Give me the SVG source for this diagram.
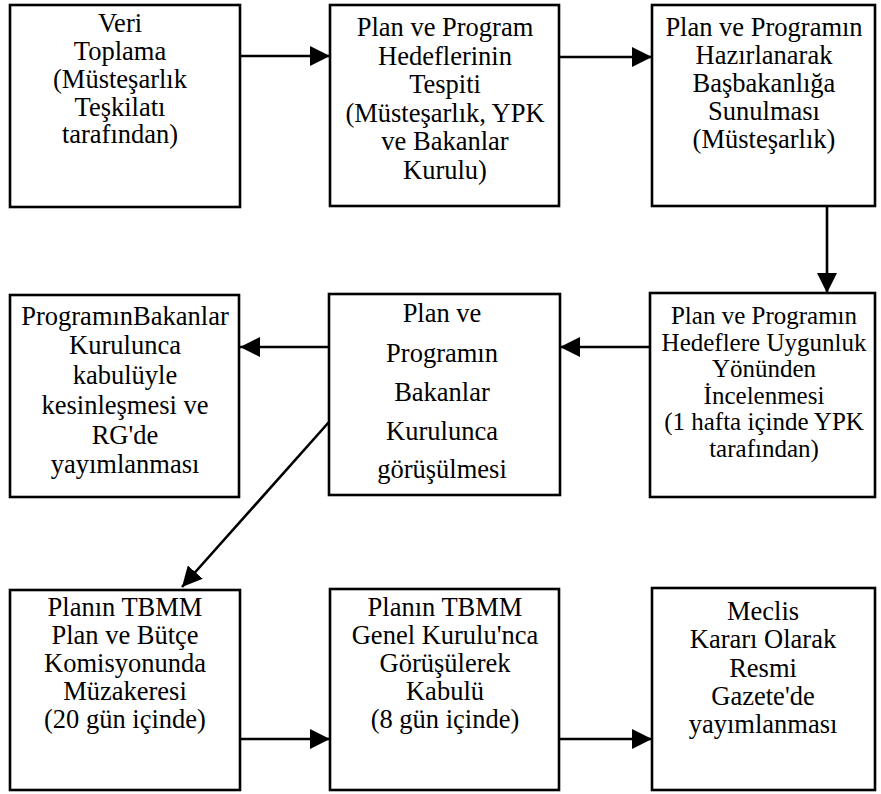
<svg xmlns="http://www.w3.org/2000/svg" width="881" height="794" viewBox="0 0 881 794">
<style>
.box{fill:#fff;stroke:#000;stroke-width:2.6}
.t{font-size:26.5px;fill:#000;text-anchor:middle}
.s{font-size:25px}
.c{stroke:#000;stroke-width:2.6;fill:none;marker-end:url(#ah)}
</style>
<defs>
<marker id="ah" markerUnits="userSpaceOnUse" markerWidth="20" markerHeight="20" refX="18" refY="9" orient="auto" viewBox="0 0 18 18">
<path d="M0,0 L18,9 L0,18 z" fill="#000"/>
</marker>
</defs>
<rect width="881" height="794" fill="#fff"/>
<g id="connectors">
<line class="c" x1="240" y1="56" x2="330" y2="56"/>
<line class="c" x1="559" y1="57" x2="652" y2="57"/>
<line class="c" x1="827" y1="206" x2="827" y2="293"/>
<line class="c" x1="650" y1="347" x2="560" y2="347"/>
<line class="c" x1="329" y1="347" x2="240" y2="347"/>
<line class="c" x1="329" y1="422" x2="182" y2="587"/>
<line class="c" x1="240" y1="739" x2="330" y2="739"/>
<line class="c" x1="559" y1="739" x2="652" y2="739"/>
</g>
<g font-family="'Liberation Serif', 'Times New Roman', 'DejaVu Serif', serif">
<g id="n1">
<rect class="box" x="10" y="5" width="230" height="202"/>
<text class="t"><tspan x="120" y="32">Veri</tspan><tspan x="120" y="60">Toplama</tspan><tspan x="120" y="88">(Müsteşarlık</tspan><tspan x="120" y="115.5">Teşkilatı</tspan><tspan x="120" y="143">tarafından)</tspan></text>
</g>
<g id="n2">
<rect class="box" x="330" y="5" width="229" height="201"/>
<text class="t"><tspan x="445" y="36">Plan ve Program</tspan><tspan x="445" y="65">Hedeflerinin</tspan><tspan x="445" y="93">Tespiti</tspan><tspan x="445" y="122">(Müsteşarlık, YPK</tspan><tspan x="445" y="150">ve Bakanlar</tspan><tspan x="445" y="179">Kurulu)</tspan></text>
</g>
<g id="n3">
<rect class="box" x="652" y="5" width="223" height="201"/>
<text class="t"><tspan x="764" y="36">Plan ve Programın</tspan><tspan x="764" y="64">Hazırlanarak</tspan><tspan x="764" y="92">Başbakanlığa</tspan><tspan x="764" y="120">Sunulması</tspan><tspan x="764" y="148">(Müsteşarlık)</tspan></text>
</g>
<g id="n4">
<rect class="box" x="10" y="295" width="229" height="202"/>
<text class="t"><tspan x="125" y="325">ProgramınBakanlar</tspan><tspan x="125" y="354">Kurulunca</tspan><tspan x="125" y="384">kabulüyle</tspan><tspan x="125" y="414">kesinleşmesi ve</tspan><tspan x="125" y="444">RG'de</tspan><tspan x="125" y="473">yayımlanması</tspan></text>
</g>
<g id="n5">
<rect class="box" x="329" y="294" width="231" height="201"/>
<text class="t"><tspan x="442" y="322">Plan ve</tspan><tspan x="442" y="362">Programın</tspan><tspan x="442" y="401">Bakanlar</tspan><tspan x="442" y="440">Kurulunca</tspan><tspan x="442" y="478">görüşülmesi</tspan></text>
</g>
<g id="n6">
<rect class="box" x="650" y="293" width="225" height="204"/>
<text class="t s"><tspan x="764" y="324">Plan ve Programın</tspan><tspan x="764" y="350.5">Hedeflere Uygunluk</tspan><tspan x="764" y="377">Yönünden</tspan><tspan x="764" y="403.5">İncelenmesi</tspan><tspan x="764" y="430">(1 hafta içinde YPK</tspan><tspan x="764" y="456.5">tarafından)</tspan></text>
</g>
<g id="n7">
<rect class="box" x="10" y="590" width="230" height="200"/>
<text class="t"><tspan x="125" y="616">Planın TBMM</tspan><tspan x="125" y="644">Plan ve Bütçe</tspan><tspan x="125" y="672">Komisyonunda</tspan><tspan x="125" y="700">Müzakeresi</tspan><tspan x="125" y="728">(20 gün içinde)</tspan></text>
</g>
<g id="n8">
<rect class="box" x="330" y="589" width="229" height="201"/>
<text class="t"><tspan x="445" y="616">Planın TBMM</tspan><tspan x="445" y="644">Genel Kurulu'nca</tspan><tspan x="445" y="672">Görüşülerek</tspan><tspan x="445" y="700">Kabulü</tspan><tspan x="445" y="728">(8 gün içinde)</tspan></text>
</g>
<g id="n9">
<rect class="box" x="652" y="588" width="223" height="202"/>
<text class="t"><tspan x="763" y="620">Meclis</tspan><tspan x="763" y="648">Kararı Olarak</tspan><tspan x="763" y="677">Resmi</tspan><tspan x="763" y="705">Gazete'de</tspan><tspan x="763" y="733">yayımlanması</tspan></text>
</g>
</g>
</svg>
